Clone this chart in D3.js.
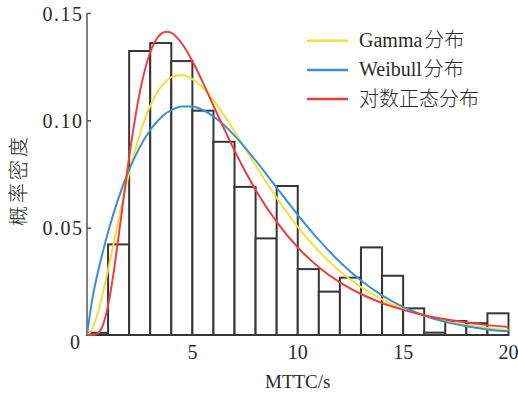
<!DOCTYPE html>
<html><head><meta charset="utf-8">
<script src="https://cdn.jsdelivr.net/npm/d3@7"></script>
<style>
body{margin:0;background:#fff;}
svg{display:block;}
</style>
</head><body>
<svg id="chart" width="518" height="393"></svg>
<script>
// Histogram: one bin per second from 0 to 20 s, bar height = probability density
const binStarts = [0,1,2,3,4,5,6,7,8,9,10,11,12,13,14,15,16,17,18,19];
const binDensity = [0.001,0.0422,0.1323,0.136,0.1276,0.1045,0.090,0.069,0.045,0.0694,
                    0.0307,0.0202,0.0267,0.0408,0.0276,0.0124,0.0011,0.0065,0.0055,0.0101];

// Fitted density curves sampled along MTTC
const curveX = [0,0.25,0.5,0.75,1,1.25,1.5,2,2.5,3,3.5,3.75,4,4.5,5,5.5,6,6.5,7,7.5,8,9,10,11,12,13,14,15,16,17,18,19,20];
const gammaPdf = [0.0000,0.0028,0.0098,0.0193,0.0303,0.0420,0.0536,0.0753,0.0933,0.1067,0.1155,0.1181,0.1201,0.1211,0.1192,0.1151,0.1093,
                  0.1024,0.0948,0.0870,0.0790,0.0639,0.0504,0.0390,0.0297,0.0223,0.0166,0.0122,0.0089,0.0064,0.0046,0.0033,0.0023];
const weibullPdf = [0.0000,0.0167,0.0285,0.0387,0.0479,0.0563,0.0639,0.0770,0.0874,0.0955,0.1012,0.1033,0.1048,0.1065,0.1064,0.1048,0.1018,
                    0.0978,0.0929,0.0873,0.0813,0.0686,0.0560,0.0443,0.0340,0.0254,0.0185,0.0131,0.0091,0.0061,0.0041,0.0026,0.0017];
const lognormalPdf = [0.0000,0.0000,0.0007,0.0045,0.0138,0.0282,0.0460,0.0829,0.1128,0.1317,0.1402,0.1413,0.1407,0.1358,0.1276,0.1176,0.1068,
                      0.0962,0.0859,0.0764,0.0676,0.0527,0.0408,0.0316,0.0245,0.0191,0.0149,0.0117,0.0092,0.0073,0.0058,0.0046,0.0037];

// legend entries: Latin part + Chinese part
const seriesLatin = ["Gamma","Weibull",""];
const seriesCjk = ["分布","分布","对数正态分布"];
const seriesColors = ["#ece23f","#3d8fd1","#ef3d40"];
const seriesValues = [gammaPdf, weibullPdf, lognormalPdf];

const xTicks = [5,10,15,20];
const yTicks = [0.05,0.10,0.15];
const xTitle = "MTTC/s";
const yTitle = "概率密度";

const SERIF = "'Liberation Serif','Times New Roman',serif";
const CJK = "'Noto Sans CJK SC','Noto Sans CJK JP',sans-serif";
const INK = "#2a2a2a";

const svg = d3.select("#chart");
const x = d3.scaleLinear().domain([0,20]).range([87,508.5]);
const y = d3.scaleLinear().domain([0,0.15]).range([335,13]);

// histogram bars
svg.append("g").selectAll("rect").data(binStarts).join("rect")
  .attr("x", d => x(d))
  .attr("y", (d,i) => y(binDensity[i]))
  .attr("width", d => x(d+1) - x(d))
  .attr("height", (d,i) => y(0) - y(binDensity[i]))
  .attr("fill", "#fff")
  .attr("stroke", "#363636")
  .attr("stroke-width", 2);

// y axis: ticks point into the plot
const yAxis = svg.append("g").attr("transform", `translate(${x(0)},0)`)
  .call(d3.axisRight(y).tickValues(yTicks).tickSize(4).tickFormat(""));
yAxis.select(".domain").attr("d", `M0,${y(0.15)}V${y(0)}`).attr("stroke","#555").attr("stroke-width",1.5);
yAxis.selectAll(".tick line").attr("stroke","#555").attr("stroke-width",1.5);

svg.append("g").selectAll("text").data(yTicks).join("text")
  .attr("x", 83.5).attr("y", d => y(d) + 7.5)
  .attr("text-anchor","end")
  .attr("font-family", SERIF).attr("font-size", 20).attr("fill", INK)
  .style("letter-spacing","1.5px")
  .text(d => d3.format(".2f")(d));
svg.append("text").attr("x", 80).attr("y", 349)
  .attr("text-anchor","end")
  .attr("font-family", SERIF).attr("font-size", 20).attr("fill", INK)
  .text("0");

// x tick labels
svg.append("g").selectAll("text").data(xTicks).join("text")
  .attr("x", d => x(d)).attr("y", 358.5)
  .attr("text-anchor","middle")
  .attr("font-family", SERIF).attr("font-size", 20).attr("fill", INK)
  .text(d => d);

// axis titles
svg.append("text").attr("x", x(10)).attr("y", 388)
  .attr("text-anchor","middle")
  .attr("font-family", SERIF).attr("font-size", 19).attr("fill", INK)
  .text(xTitle);
svg.append("text")
  .attr("transform","translate(26,180) rotate(-90)")
  .attr("text-anchor","middle")
  .attr("font-family", CJK).attr("font-size", 20).attr("font-weight", 300).attr("fill", INK)
  .style("letter-spacing","3px")
  .text(yTitle);

// fitted curves
const line = d3.line().x((d,i) => x(curveX[i])).y(d => y(d)).curve(d3.curveMonotoneX);
svg.append("g").selectAll("path").data(seriesValues).join("path")
  .attr("d", line)
  .attr("fill","none")
  .attr("stroke",(d,i) => seriesColors[i])
  .attr("stroke-width",2);

// legend
const legend = svg.append("g").selectAll("g").data(seriesCjk).join("g")
  .attr("transform",(d,i) => `translate(307,${40.7 + i*29.2})`);
legend.append("line").attr("x1",0).attr("x2",41).attr("y1",0).attr("y2",0)
  .attr("stroke",(d,i) => seriesColors[i]).attr("stroke-width",2.5);
const lt = legend.append("text").attr("x",52).attr("y",6.5).attr("font-size",20).attr("fill",INK);
lt.append("tspan").attr("font-family", SERIF).text((d,i) => seriesLatin[i]);
lt.append("tspan").attr("font-family", CJK).attr("font-weight", 300)
  .attr("dx",(d,i) => seriesLatin[i] ? 2 : 0)
  .text(d => d);
</script>
</body></html>
